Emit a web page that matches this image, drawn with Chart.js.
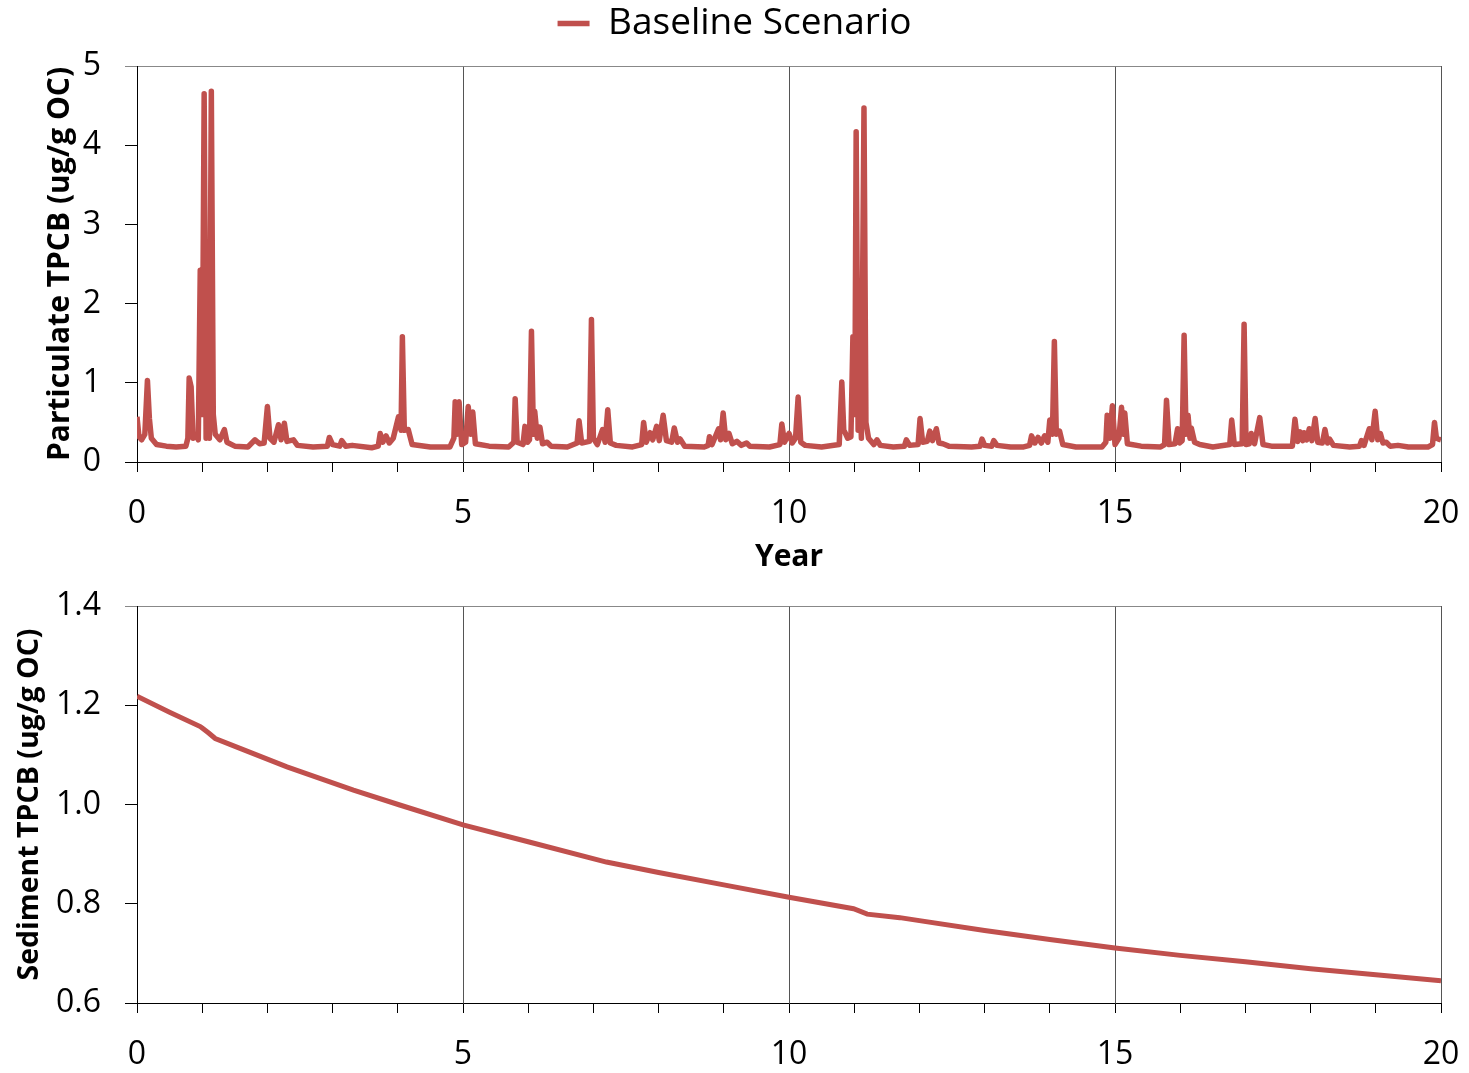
<!DOCTYPE html>
<html>
<head>
<meta charset="utf-8">
<title>Baseline Scenario TPCB</title>
<script src="https://cdn.jsdelivr.net/npm/chart.js@4.4.1/dist/chart.umd.min.js"></script>
<style>
  html, body { margin: 0; padding: 0; background: #fff; }
  #wrap { position: relative; width: 1469px; height: 1073px; }
  canvas { position: absolute; left: 0; }
  #top { top: 0; }
  #bottom { top: 580px; }
</style>
</head>
<body>
<div id="wrap">
  <canvas id="top" width="1469" height="580"></canvas>
  <canvas id="bottom" width="1469" height="493"></canvas>
</div>
<script>
const seriesName = "Baseline Scenario"
const labelledYears = [0, 5, 10, 15, 20]

// particulate TPCB, [year, ug/g OC]
const particulate = [
  [0.00, 0.57], [0.03, 0.32], [0.07, 0.28], [0.12, 0.35], [0.16, 1.03], [0.19, 0.55],
  [0.22, 0.30], [0.30, 0.22], [0.45, 0.20], [0.60, 0.19], [0.75, 0.20], [0.78, 0.30],
  [0.80, 1.06], [0.83, 0.95], [0.86, 0.30], [0.90, 0.35], [0.94, 0.28], [0.97, 2.42],
  [1.00, 0.60], [1.03, 4.65], [1.06, 0.30], [1.08, 1.27], [1.11, 0.30], [1.14, 4.68],
  [1.17, 0.60], [1.20, 0.35], [1.27, 0.28], [1.34, 0.41], [1.38, 0.25], [1.50, 0.20],
  [1.70, 0.19], [1.81, 0.28], [1.88, 0.23], [1.95, 0.24], [2.00, 0.70], [2.04, 0.30],
  [2.10, 0.25], [2.17, 0.47], [2.21, 0.28], [2.26, 0.49], [2.30, 0.26], [2.40, 0.28],
  [2.46, 0.21], [2.70, 0.19], [2.92, 0.20], [2.95, 0.31], [3.00, 0.22], [3.11, 0.20],
  [3.14, 0.27], [3.20, 0.20], [3.30, 0.21], [3.60, 0.18], [3.70, 0.20], [3.73, 0.36],
  [3.77, 0.25], [3.82, 0.33], [3.87, 0.24], [3.93, 0.30], [4.01, 0.57], [4.05, 0.40],
  [4.07, 1.58], [4.10, 0.40], [4.16, 0.41], [4.22, 0.22], [4.50, 0.19], [4.80, 0.19],
  [4.86, 0.30], [4.88, 0.76], [4.91, 0.35], [4.94, 0.76], [4.98, 0.22], [5.04, 0.25],
  [5.08, 0.70], [5.12, 0.35], [5.15, 0.63], [5.19, 0.23], [5.40, 0.20], [5.70, 0.19],
  [5.78, 0.25], [5.80, 0.80], [5.83, 0.25], [5.92, 0.22], [5.95, 0.45], [5.99, 0.25],
  [6.02, 0.28], [6.05, 1.65], [6.08, 0.35], [6.10, 0.64], [6.14, 0.30], [6.18, 0.44],
  [6.22, 0.23], [6.29, 0.25], [6.35, 0.20], [6.60, 0.19], [6.75, 0.24], [6.78, 0.52],
  [6.82, 0.24], [6.94, 0.26], [6.97, 1.80], [7.00, 0.30], [7.06, 0.22], [7.14, 0.41],
  [7.18, 0.25], [7.22, 0.66], [7.26, 0.24], [7.35, 0.21], [7.60, 0.19], [7.74, 0.22],
  [7.77, 0.50], [7.81, 0.25], [7.87, 0.37], [7.91, 0.28], [7.97, 0.45], [8.01, 0.27],
  [8.07, 0.59], [8.12, 0.27], [8.20, 0.25], [8.24, 0.43], [8.29, 0.25], [8.33, 0.29],
  [8.40, 0.20], [8.70, 0.19], [8.76, 0.21], [8.78, 0.32], [8.82, 0.22], [8.92, 0.42],
  [8.95, 0.28], [8.99, 0.62], [9.03, 0.28], [9.08, 0.36], [9.13, 0.23], [9.20, 0.26],
  [9.27, 0.21], [9.35, 0.24], [9.40, 0.20], [9.70, 0.19], [9.86, 0.22], [9.89, 0.48],
  [9.93, 0.25], [10.00, 0.36], [10.05, 0.24], [10.10, 0.30], [10.14, 0.82], [10.18, 0.25],
  [10.25, 0.21], [10.50, 0.19], [10.77, 0.22], [10.81, 1.01], [10.84, 0.40], [10.86, 0.37],
  [10.90, 0.30], [10.95, 0.32], [10.98, 1.58], [11.01, 0.60], [11.03, 4.17], [11.06, 0.40],
  [11.08, 1.16], [11.11, 0.30], [11.15, 4.47], [11.18, 0.50], [11.22, 0.30], [11.30, 0.22],
  [11.35, 0.28], [11.40, 0.21], [11.60, 0.19], [11.77, 0.20], [11.80, 0.28], [11.85, 0.21],
  [11.98, 0.22], [12.01, 0.55], [12.05, 0.25], [12.12, 0.26], [12.16, 0.39], [12.20, 0.27],
  [12.26, 0.42], [12.30, 0.24], [12.36, 0.23], [12.45, 0.20], [12.80, 0.19], [12.93, 0.20],
  [12.96, 0.29], [13.00, 0.21], [13.11, 0.20], [13.14, 0.27], [13.19, 0.21], [13.40, 0.19],
  [13.60, 0.19], [13.69, 0.21], [13.72, 0.33], [13.77, 0.24], [13.82, 0.31], [13.87, 0.24],
  [13.92, 0.33], [13.97, 0.25], [14.00, 0.53], [14.04, 0.35], [14.07, 1.52], [14.10, 0.35],
  [14.15, 0.39], [14.20, 0.22], [14.40, 0.19], [14.80, 0.19], [14.86, 0.25], [14.88, 0.59],
  [14.92, 0.30], [14.96, 0.71], [15.00, 0.22], [15.06, 0.30], [15.10, 0.69], [15.13, 0.35],
  [15.15, 0.62], [15.19, 0.23], [15.40, 0.20], [15.70, 0.19], [15.76, 0.22], [15.79, 0.78],
  [15.83, 0.22], [15.92, 0.23], [15.96, 0.42], [15.99, 0.24], [16.03, 0.27], [16.06, 1.60],
  [16.09, 0.35], [16.12, 0.59], [16.15, 0.30], [16.17, 0.43], [16.22, 0.25], [16.30, 0.22],
  [16.50, 0.19], [16.76, 0.22], [16.79, 0.53], [16.83, 0.22], [16.95, 0.23], [16.98, 1.74],
  [17.01, 0.22], [17.06, 0.23], [17.09, 0.36], [17.14, 0.23], [17.22, 0.56], [17.27, 0.22],
  [17.40, 0.20], [17.72, 0.20], [17.76, 0.54], [17.80, 0.26], [17.84, 0.38], [17.88, 0.27],
  [17.90, 0.37], [17.94, 0.28], [17.98, 0.42], [18.02, 0.27], [18.07, 0.55], [18.11, 0.25],
  [18.18, 0.24], [18.22, 0.41], [18.26, 0.24], [18.29, 0.29], [18.35, 0.21], [18.60, 0.19],
  [18.75, 0.20], [18.78, 0.27], [18.82, 0.21], [18.90, 0.42], [18.94, 0.28], [18.99, 0.64],
  [19.03, 0.28], [19.07, 0.36], [19.11, 0.24], [19.16, 0.25], [19.22, 0.20], [19.34, 0.21],
  [19.50, 0.19], [19.80, 0.19], [19.87, 0.22], [19.90, 0.50], [19.93, 0.30], [19.96, 0.29],
  [20.00, 0.28],
]

// sediment TPCB
const sedimentYears = [0, 0.5, 0.97, 1.0, 1.09, 1.2, 1.6, 2.3, 3.32, 4.03, 5, 6, 7.2, 8, 9,
  10, 10.99, 11.2, 11.7, 12, 13, 14, 15, 16, 17, 18, 19, 20]
const sedimentValues = [1.218, 1.186, 1.157, 1.154, 1.145, 1.133, 1.112, 1.076, 1.029, 0.999,
  0.959, 0.925, 0.884, 0.863, 0.838, 0.813, 0.790, 0.779, 0.772, 0.766, 0.746, 0.728, 0.711,
  0.696, 0.683, 0.669, 0.657, 0.645]

const red = "#C0504D"
const font = "'Open Sans', sans-serif"

Chart.defaults.font.family = font
Chart.defaults.color = "#000"

function xAxis(title, height) {
  return {
    type: "linear",
    min: 0,
    max: 20,
    afterFit: (scale) => {
      // fixed height, and no extra side padding for the end labels
      scale.height = height
      scale.paddingLeft = 0
      scale.paddingRight = 0
    },
    ticks: {
      stepSize: 1,
      autoSkip: false,
      maxRotation: 0,
      padding: 23,
      font: { size: 32 },
      callback: (v) => (labelledYears.includes(v) ? String(v) : ""),
    },
    grid: {
      color: (ctx) => (ctx.tick && ctx.tick.value % 5 === 0 && ctx.tick.value > 0 ? "#555" : "rgba(0,0,0,0)"),
      tickColor: "#000",
      tickLength: 10,
      lineWidth: 1,
    },
    border: { color: "#000", width: 1 },
    title: {
      display: !!title,
      text: title,
      font: { size: 30, weight: "bold" },
      padding: 5,
    },
  }
}

function yAxis(min, max, step, title, titleSize, titlePad, width, digits) {
  return {
    min: min,
    max: max,
    afterFit: (scale) => {
      scale.width = width
      scale.paddingTop = 0
      scale.paddingBottom = 0
    },
    ticks: {
      stepSize: step,
      padding: 24,
      font: { size: 32 },
      callback: (v) => v.toFixed(digits),
    },
    grid: {
      color: (ctx) => (ctx.tick && Math.abs(ctx.tick.value - max) < 1e-9 ? "#888" : "rgba(0,0,0,0)"),
      tickColor: (ctx) => (ctx.tick && Math.abs(ctx.tick.value - max) < 1e-9 ? "#888" : "#000"),
      tickLength: 12,
    },
    border: { color: "#000", width: 1 },
    title: {
      display: true,
      text: title,
      font: { size: titleSize, weight: "bold" },
      padding: titlePad,
    },
  }
}

// legend box made tall enough that the plot starts where the original's does
const legendHeight = {
  id: "legendHeight",
  afterInit(chart) {
    const legend = chart.legend
    if (!legend) return
    const fit = legend.fit
    legend.fit = function () {
      fit.call(this)
      this.height = 66
    }
  },
}

new Chart(document.getElementById("top"), {
  type: "line",
  data: {
    datasets: [{
      label: seriesName,
      data: particulate.map(([x, y]) => ({ x, y })),
      borderColor: red,
      backgroundColor: red,
      borderWidth: 5.5,
      pointRadius: 0,
      tension: 0,
      borderJoinStyle: "round",
    }],
  },
  options: {
    responsive: false,
    animation: false,
    layout: { padding: { top: 0, left: 28, right: 28, bottom: 0 } },
    plugins: {
      legend: {
        display: true,
        position: "top",
        labels: {
          usePointStyle: true,
          pointStyle: "line",
          pointStyleWidth: 32,
          padding: 5,
          font: { size: 37 },
          color: "#000",
        },
      },
      tooltip: { enabled: false },
    },
    scales: {
      x: xAxis("Year", 118),
      y: yAxis(0, 5, 1, "Particulate TPCB (ug/g OC)", 30, 14, 109, 0),
    },
  },
  plugins: [legendHeight],
})

new Chart(document.getElementById("bottom"), {
  type: "line",
  data: {
    datasets: [{
      label: seriesName,
      data: sedimentValues.map((v, i) => ({ x: sedimentYears[i], y: v })),
      borderColor: red,
      borderWidth: 5,
      pointRadius: 0,
      tension: 0,
    }],
  },
  options: {
    responsive: false,
    animation: false,
    layout: { padding: { top: 26, left: 0, right: 28, bottom: 0 } },
    plugins: {
      legend: { display: false },
      tooltip: { enabled: false },
    },
    scales: {
      x: xAxis("", 70),
      y: yAxis(0.6, 1.4, 0.2, "Sediment TPCB (ug/g OC)", 28.5, 13, 137, 1),
    },
  },
})
</script>
</body>
</html>
